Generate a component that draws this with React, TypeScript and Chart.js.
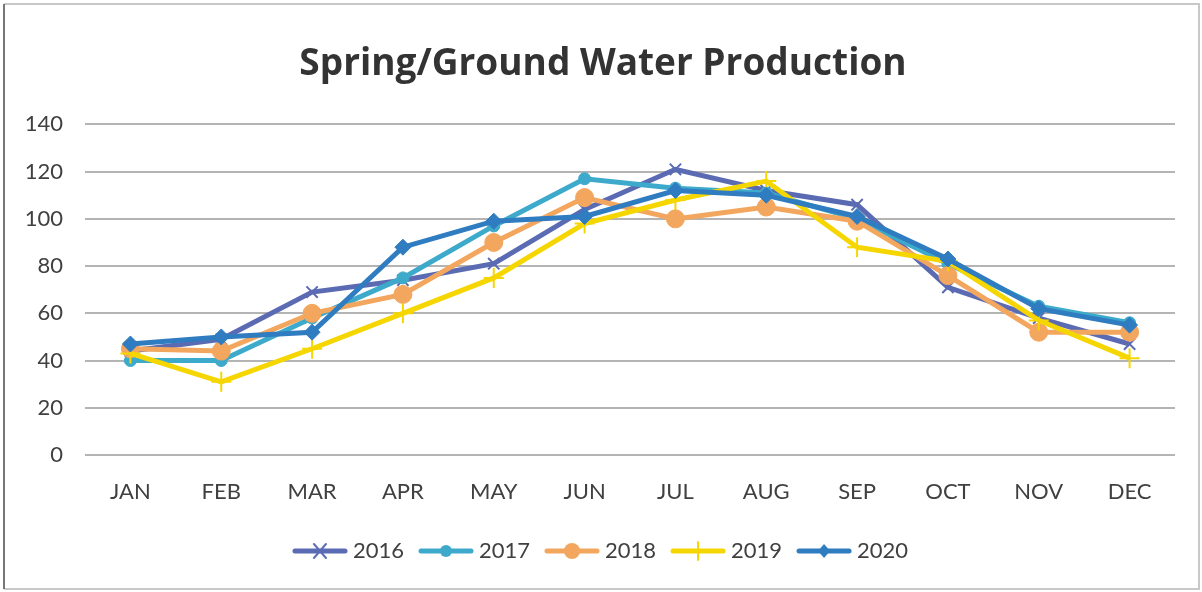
import React, { useEffect, useRef } from "react";
import { Chart, registerables } from "chart.js";

Chart.register(...registerables);

const months = ["JAN", "FEB", "MAR", "APR", "MAY", "JUN", "JUL", "AUG", "SEP", "OCT", "NOV", "DEC"];
const years = ["2016", "2017", "2018", "2019", "2020"];
const v2016 = [44, 49, 69, 74, 81, 104, 121, 112, 106, 71, 58, 47];
const v2017 = [40, 40, 58, 75, 97, 117, 113, 111, 100, 81, 63, 56];
const v2018 = [45, 44, 60, 68, 90, 109, 100, 105, 99, 76, 52, 52];
const v2019 = [43, 31, 45, 60, 75, 98, 108, 116, 88, 82, 57, 41];
const v2020 = [47, 50, 52, 88, 99, 101, 112, 110, 101, 83, 62, 55];
const yTicks = [0, 20, 40, 60, 80, 100, 120, 140];

const colors = ["#5a6bb3", "#3eaacb", "#f2a65e", "#f6d600", "#2f7cc0"];
const styles = ["crossRot", "circle", "circle", "cross", "rectRot"];
const radii = [8, 6, 9, 10, 8];
const series = [v2016, v2017, v2018, v2019, v2020];

function makeLegendIcon(i: number): HTMLCanvasElement {
  const c = document.createElement("canvas");
  c.width = 56;
  c.height = 22;
  const ctx = c.getContext("2d")!;
  ctx.strokeStyle = colors[i];
  ctx.fillStyle = colors[i];
  ctx.lineWidth = 5;
  ctx.lineCap = "round";
  ctx.beginPath();
  ctx.moveTo(3, 11);
  ctx.lineTo(53, 11);
  ctx.stroke();
  const cx = 28, cy = 11;
  const s = styles[i];
  ctx.lineWidth = 2;
  if (s === "circle") {
    ctx.beginPath();
    ctx.arc(cx, cy, i === 2 ? 8 : 6, 0, Math.PI * 2);
    ctx.fill();
  } else if (s === "crossRot") {
    ctx.beginPath();
    ctx.moveTo(cx - 6, cy - 7);
    ctx.lineTo(cx + 6, cy + 7);
    ctx.moveTo(cx + 6, cy - 7);
    ctx.lineTo(cx - 6, cy + 7);
    ctx.stroke();
  } else if (s === "cross") {
    ctx.beginPath();
    ctx.moveTo(cx, cy - 9);
    ctx.lineTo(cx, cy + 9);
    ctx.stroke();
  } else {
    ctx.beginPath();
    ctx.moveTo(cx, cy - 7);
    ctx.lineTo(cx + 6, cy);
    ctx.lineTo(cx, cy + 7);
    ctx.lineTo(cx - 6, cy);
    ctx.closePath();
    ctx.fill();
  }
  return c;
}

const framePlugin = {
  id: "frame",
  afterDraw(chart: any) {
    const ctx = chart.ctx;
    ctx.save();
    ctx.strokeStyle = "#c8c8c8";
    ctx.lineWidth = 2;
    ctx.beginPath();
    ctx.moveTo(4, 4);
    ctx.lineTo(1199, 4);
    ctx.lineTo(1199, 589);
    ctx.lineTo(4, 589);
    ctx.stroke();
    ctx.strokeStyle = "#777";
    ctx.lineWidth = 2;
    ctx.beginPath();
    ctx.moveTo(4, 4);
    ctx.lineTo(4, 589);
    ctx.stroke();
    ctx.restore();
  },
};

export default function App() {
  const ref = useRef<HTMLCanvasElement>(null);
  useEffect(() => {
    document.body.style.margin = "0";
    const icons = years.map((_, i) => makeLegendIcon(i));
    const chart = new Chart(ref.current!, {
      type: "line",
      data: {
        labels: months,
        datasets: years.map((y, i) => ({
          label: y,
          data: series[i],
          borderColor: colors[i],
          backgroundColor: colors[i],
          borderWidth: 5,
          pointStyle: styles[i] as any,
          pointRadius: radii[i],
          pointBorderWidth: styles[i] === "cross" || styles[i] === "crossRot" ? 2 : 1,
          pointBorderColor: colors[i],
          pointBackgroundColor: colors[i],
          tension: 0,
          order: -i,
          yAxisID: "y",
        })),
      },
      options: {
        responsive: false,
        animation: false,
        layout: { padding: { left: 10, right: 6, top: 20, bottom: 20 } },
        plugins: {
          title: {
            display: true,
            text: "Spring/Ground Water Production",
            color: "#333333",
            font: { family: "'Open Sans', sans-serif", size: 37, weight: "bold" },
            padding: { top: 22, bottom: 38 },
          },
          legend: {
            position: "bottom",
            labels: {
              usePointStyle: true,
              pointStyleWidth: 44,
              padding: 20,
              color: "#404040",
              font: { family: "Lato, sans-serif", size: 22 },
              generateLabels: () =>
                years.map((y, i) => ({
                  text: y,
                  fillStyle: colors[i],
                  strokeStyle: colors[i],
                  lineWidth: 0,
                  pointStyle: icons[i],
                  datasetIndex: i,
                  hidden: false,
                  fontColor: "#404040",
                })) as any,
            },
          },
          tooltip: { enabled: false },
        },
        scales: {
          x: {
            offset: true,
            grid: { display: false, drawTicks: false },
            border: { display: false },
            ticks: {
              color: "#404040",
              font: { family: "Lato, sans-serif", size: 22 },
              padding: 24,
            },
            afterFit: (s: any) => {
              s.height = 65;
            },
          },
          y: {
            min: 0,
            max: 140,
            afterBuildTicks: (s: any) => {
              s.ticks = yTicks.map((v) => ({ value: v }));
            },
            grid: { color: "#b4b4b4", lineWidth: 2, drawTicks: false },
            border: { display: false },
            ticks: {
              color: "#404040",
              font: { family: "Lato, sans-serif", size: 22 },
              padding: 22,
            },
            afterFit: (s: any) => {
              s.width = 75;
            },
          },
          ySpacer: {
            position: "right",
            display: true,
            min: 0,
            max: 140,
            grid: { display: false, drawTicks: false },
            border: { display: false },
            ticks: { display: false },
            afterFit: (s: any) => {
              s.width = 21;
            },
          },
        },
      },
      plugins: [framePlugin],
    });
    return () => chart.destroy();
  }, []);
  return (
    <div style={{ width: 1202, height: 592, background: "#fff" }}>
      <canvas ref={ref} width={1202} height={592} />
    </div>
  );
}
